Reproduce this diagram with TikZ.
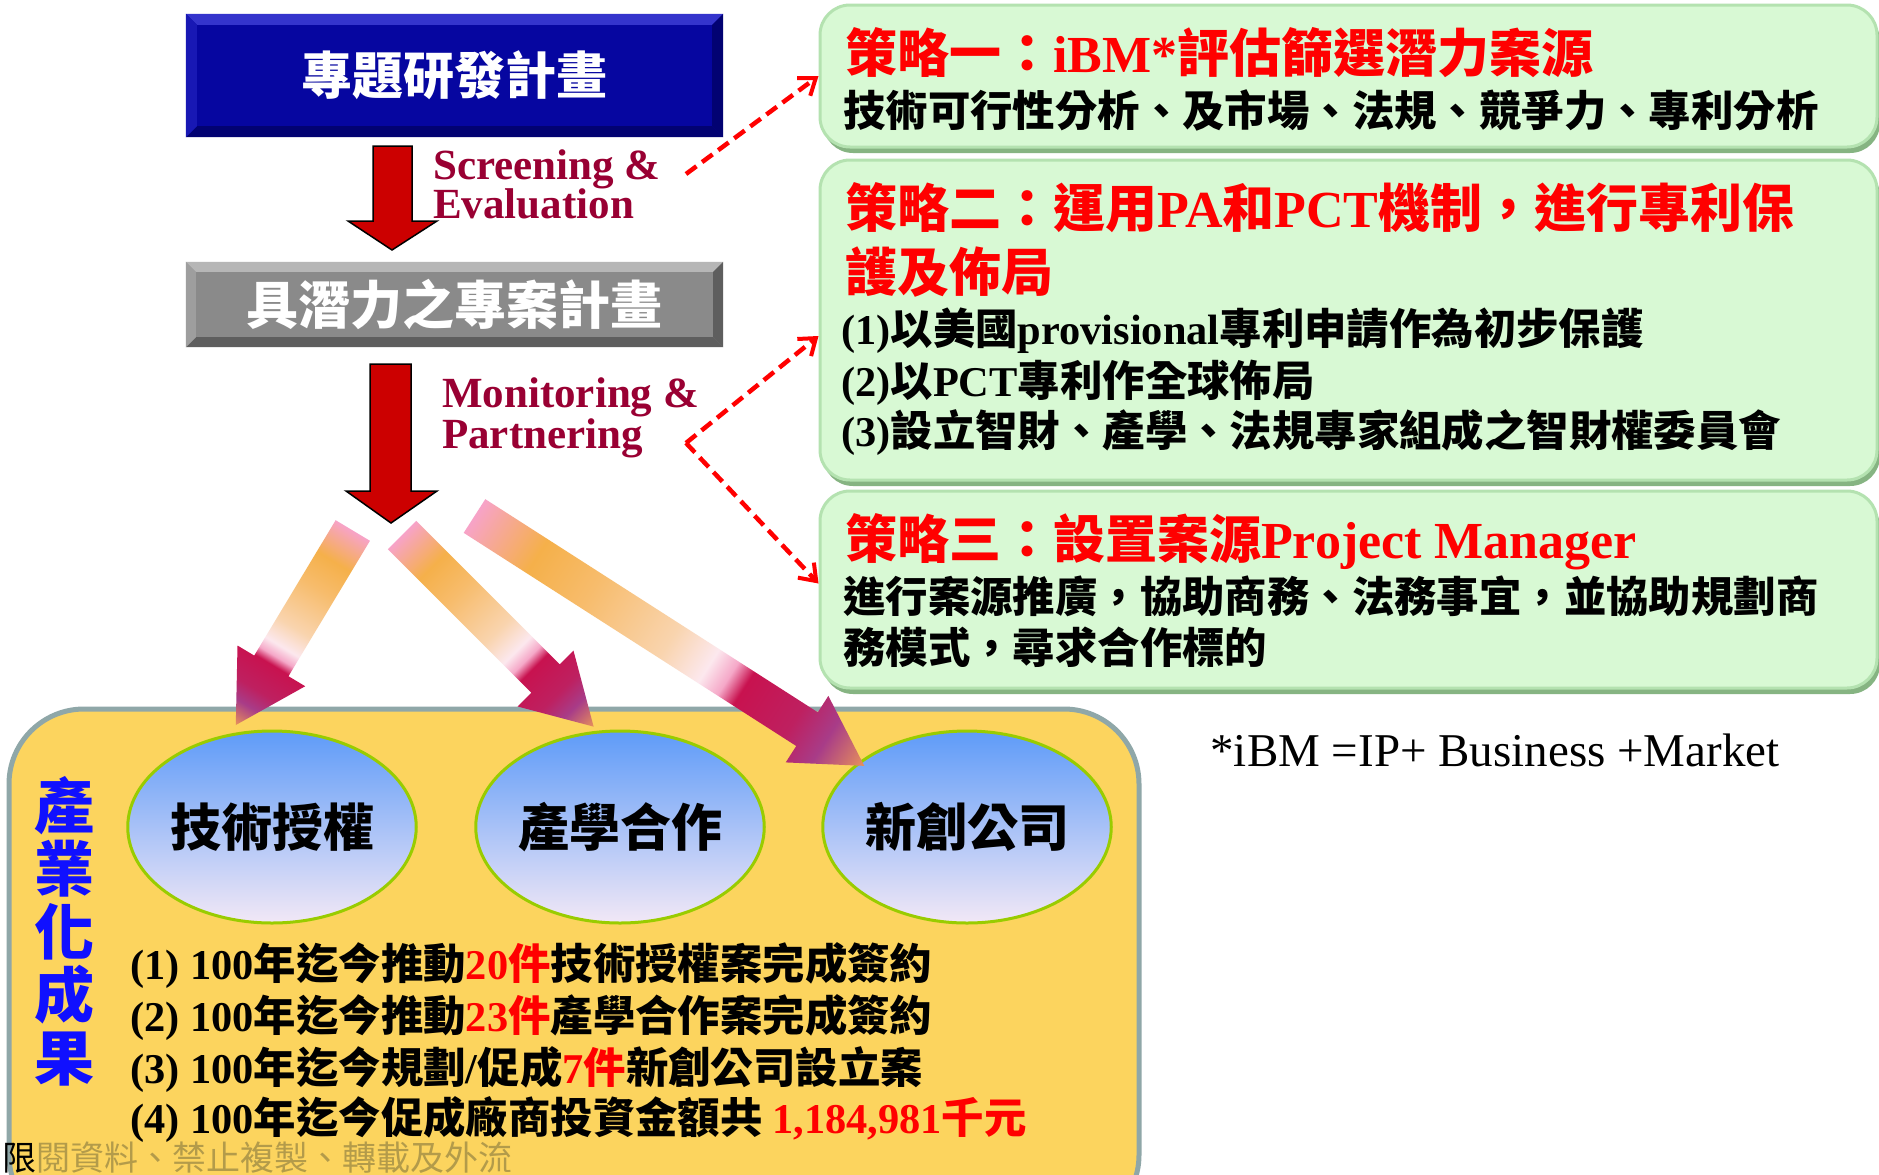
\documentclass[tikz,border=0pt]{standalone}
\usepackage{fontspec}
\setmainfont{Noto Sans CJK TC}
\newfontfamily\tnr{Liberation Serif}
\usetikzlibrary{arrows.meta,shapes.geometric,shadows,calc}
\newcommand{\latn}[1]{{\tnr #1}}

\definecolor{bluemid}{HTML}{0606A0}
\definecolor{bluehi}{HTML}{3434CC}
\definecolor{blueside}{HTML}{1818B4}
\definecolor{bluelo}{HTML}{020272}
\definecolor{graymid}{HTML}{8A8A8A}
\definecolor{grayhi}{HTML}{B6B6B6}
\definecolor{grayside}{HTML}{9E9E9E}
\definecolor{graylo}{HTML}{5E5E5E}
\definecolor{arrred}{HTML}{CC0000}
\definecolor{engred}{HTML}{990033}
\definecolor{grnfill}{HTML}{D8F9D4}
\definecolor{grnedge}{HTML}{B4E2B0}
\definecolor{grnshadow}{HTML}{86B482}
\definecolor{yelfill}{HTML}{FCD45E}
\definecolor{yeledge}{HTML}{8FA7A8}
\definecolor{elltop}{HTML}{5E9BF8}
\definecolor{ellmid}{HTML}{8CC0F6}
\definecolor{ellbot}{HTML}{F2E8F6}
\definecolor{elledge}{HTML}{99CC00}
\definecolor{resblue}{HTML}{1010FF}
\definecolor{wmark}{HTML}{B39B4A}
\definecolor{fpink}{HTML}{F7A3C8}
\definecolor{forange}{HTML}{F5B04A}
\definecolor{forangeb}{HTML}{F7BC6C}
\definecolor{flight}{HTML}{F9D4AE}
\definecolor{fpale}{HTML}{FCE8EE}
\definecolor{fpinkb}{HTML}{F5A8C8}
\definecolor{fmag}{HTML}{C8124F}
\definecolor{fmagb}{HTML}{BE2060}
\definecolor{fpurple}{HTML}{A83C88}
\definecolor{ftip}{HTML}{E8925A}

\pgfdeclarehorizontalshading{fatgrad}{100bp}{color(0bp)=(fpink); color(25bp)=(fpink); color(33bp)=(forange); color(40bp)=(forangeb); color(50bp)=(flight); color(55bp)=(fpale); color(57.5bp)=(fpinkb); color(59.5bp)=(fmag); color(66bp)=(fmagb); color(70bp)=(fpurple); color(75bp)=(ftip); color(100bp)=(ftip)}

\begin{document}
\begin{tikzpicture}[x=1pt, y=-1pt]
  \tikzstyle{ttl} = [inner sep=0, text=white, font=\bfseries\fontsize{51}{60}\selectfont]
  \tikzstyle{strat} = [anchor=base west, inner sep=0, text=red, font=\bfseries\fontsize{52}{60}\selectfont]
  \tikzstyle{body} = [anchor=base west, inner sep=0, font=\bfseries\fontsize{42.4}{50}\selectfont]
  \tikzstyle{eng} = [anchor=base west, inner sep=0, text=engred, font=\tnr\bfseries\fontsize{43}{50}\selectfont]
  \tikzstyle{panel} = [draw=grnedge, line width=3, fill=grnfill, rounded corners=30, inner sep=0, minimum width=1057, drop shadow={shadow xshift=3pt, shadow yshift=-6pt, fill=grnshadow, opacity=1}]
  \tikzstyle{bubble} = [ellipse, draw=elledge, line width=3, top color=elltop, middle color=ellmid, bottom color=ellbot, minimum width=280, minimum height=192, inner sep=0, font=\bfseries\fontsize{51}{60}\selectfont]
  \tikzstyle{blockarr} = [fill=arrred, draw=black, line width=1.5]
  \tikzstyle{link} = [draw=red, line width=4.5, dash pattern=on 13pt off 7pt, -{Straight Barb[length=15pt, width=22pt, line width=4pt]}]

  \useasboundingbox (0,0) rectangle (1879,1175);
  \clip (0,0) rectangle (1879,1175);
  \fill[white] (0,0) rectangle (1879,1175);

  \node[ttl, fill=bluemid, minimum width=537, minimum height=123] (plan) at (454.5,75.5) {專題研發計畫};
  \fill[bluehi] (plan.north west) -- (plan.north east) -- ($(plan.north east)+(-11,11)$) -- ($(plan.north west)+(11,11)$) -- cycle;
  \fill[bluelo] (plan.south west) -- (plan.south east) -- ($(plan.south east)+(-11,-11)$) -- ($(plan.south west)+(11,-11)$) -- cycle;
  \fill[blueside] (plan.north west) -- ($(plan.north west)+(11,11)$) -- ($(plan.south west)+(11,-11)$) -- (plan.south west) -- cycle;
  \fill[bluelo] (plan.north east) -- ($(plan.north east)+(-11,11)$) -- ($(plan.south east)+(-11,-11)$) -- (plan.south east) -- cycle;

  \node[ttl, font=\bfseries\fontsize{52}{60}\selectfont, fill=graymid, minimum width=537, minimum height=85] (cand) at (454.5,304.5) {具潛力之專案計畫};
  \fill[grayhi] (cand.north west) -- (cand.north east) -- ($(cand.north east)+(-10,10)$) -- ($(cand.north west)+(10,10)$) -- cycle;
  \fill[graylo] (cand.south west) -- (cand.south east) -- ($(cand.south east)+(-10,-10)$) -- ($(cand.south west)+(10,-10)$) -- cycle;
  \fill[grayside] (cand.north west) -- ($(cand.north west)+(10,10)$) -- ($(cand.south west)+(10,-10)$) -- (cand.south west) -- cycle;
  \fill[graylo] (cand.north east) -- ($(cand.north east)+(-10,10)$) -- ($(cand.south east)+(-10,-10)$) -- (cand.south east) -- cycle;

  \path[blockarr] (373,146) -- (412,146) -- (412,221) -- (437,221) -- (392,250) -- (348,221) -- (373,221) -- cycle;
  \path[blockarr] (370,364) -- (411,364) -- (411,491) -- (437,491) -- (391,523) -- (346,491) -- (370,491) -- cycle;

  \node[eng] (scr) at (433,179) {Screening \&};
  \node[eng] (eva) at (433,218) {Evaluation};
  \node[eng] (mon) at (442,407) {Monitoring \&};
  \node[eng] (par) at (442,448) {Partnering};

  \node[panel, minimum height=142] (g1) at (1348.5,76) {};
  \node[panel, minimum height=320] (g2) at (1348.5,320) {};
  \node[panel, minimum height=197] (g3) at (1348.5,589.5) {};

  \node[strat] (t1) at (845,72) {策略一：\latn{iBM*}評估篩選潛力案源};
  \node[body] (d1) at (843,126) {技術可行性分析、及市場、法規、競爭力、專利分析};
  \node[strat] (t2a) at (845,227) {策略二：運用\latn{PA}和\latn{PCT}機制，進行專利保};
  \node[strat] (t2b) at (845,291) {護及佈局};
  \node[body] (d2a) at (841,344) {\latn{(1)}以美國\latn{provisional}專利申請作為初步保護};
  \node[body] (d2b) at (841,396) {\latn{(2)}以\latn{PCT}專利作全球佈局};
  \node[body] (d2c) at (841,446) {\latn{(3)}設立智財、產學、法規專家組成之智財權委員會};
  \node[strat] (t3) at (845,558) {策略三：設置案源\latn{Project Manager}};
  \node[body] (d3a) at (843,612) {進行案源推廣，協助商務、法務事宜，並協助規劃商};
  \node[body] (d3b) at (843,663) {務模式，尋求合作標的};

  \coordinate (s1) at (686,174);
  \coordinate (s2) at (686,443);
  \draw[link] (s1) -- (g1.west);
  \draw[link] (s2) -- ($(g2.west)+(0,16)$);
  \draw[link] (s2) -- ($(g3.west)+(0,-6)$);

  \node[inner sep=0, font=\tnr\fontsize{47}{50}\selectfont] (ibm) at (1495,750) {*iBM =IP+ Business +Market};

  \draw[draw=yeledge, fill=yelfill, line width=5, rounded corners=75] (9,709) rectangle (1139,1230);

  \node[bubble] (lic) at (272,827) {技術授權};
  \node[bubble] (coop) at (620,827) {產學合作};
  \node[bubble] (start) at (967,827) {新創公司};

  \begin{scope}[transform canvas={shift={(352.8,530.5)}, rotate=-121.03}]
    \shade[shading=fatgrad] (0,-20) -- (158,-20) -- (158,-39.5) -- (227,0) -- (158,39.5) -- (158,20) -- (0,20) -- cycle;
  \end{scope}
  \begin{scope}[transform canvas={shift={(402,535)}, rotate=-45}]
    \shade[shading=fatgrad] (0,-20) -- (203,-20) -- (203,-39.5) -- (271,0) -- (203,39.5) -- (203,20) -- (0,20) -- cycle;
  \end{scope}
  \begin{scope}[transform canvas={shift={(474.5,516)}, rotate=-32.66}]
    \shade[shading=fatgrad] (0,-20) -- (395,-20) -- (395,-39.5) -- (463,0) -- (395,39.5) -- (395,20) -- (0,20) -- cycle;
  \end{scope}

  \node[inner sep=0, align=center, text=resblue, font=\bfseries\fontsize{60}{63}\selectfont] (res) at (64,931) {產\\業\\化\\成\\果};

  \node[body] (r1) at (130,979) {\latn{(1) 100}年迄今推動\textcolor{red}{\latn{20}件}技術授權案完成簽約};
  \node[body] (r2) at (130,1031) {\latn{(2) 100}年迄今推動\textcolor{red}{\latn{23}件}產學合作案完成簽約};
  \node[body] (r3) at (130,1083) {\latn{(3) 100}年迄今規劃\latn{/}促成\textcolor{red}{\latn{7}件}新創公司設立案};
  \node[body] (r4) at (130,1133) {\latn{(4) 100}年迄今促成廠商投資金額共 \textcolor{red}{\latn{1,184,981}千元}};

  \node[anchor=base west, inner sep=0, text=wmark, font=\fontsize{34}{40}\selectfont] (wm) at (2,1170) {\textcolor{black}{限}閱資料、禁止複製、轉載及外流};
\end{tikzpicture}
\end{document}
